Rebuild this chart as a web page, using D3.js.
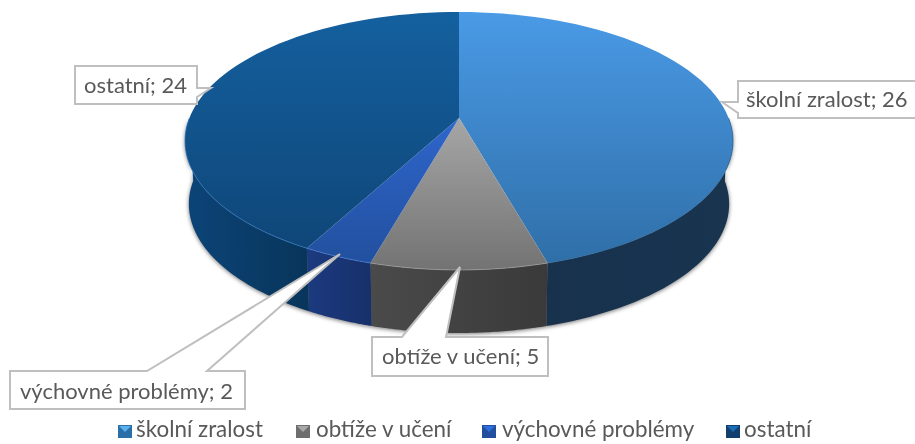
<!DOCTYPE html>
<html>

<head>
    <meta charset="utf-8">
    <title>Koláčový graf</title>
    <style>
        body { margin: 0; background: #fff; }
        svg { display: block; filter: blur(0.35px); }
        text { font-family: Lato, "Open Sans", sans-serif; fill: #595959; }
    </style>
</head>

<body>
    <script src="https://cdn.jsdelivr.net/npm/d3@7/dist/d3.min.js"></script>
    <script>
        const categories = ["školní zralost", "obtíže v učení", "výchovné problémy", "ostatní"];
        const values = [26, 5, 2, 24];

        const width = 915, height = 444;
        const topColors = [["#4a9ae6", "#2f6fa8"], ["#a6a6a6", "#737373"], ["#2f66cc", "#22509f"], ["#14609f", "#0f4678"]];
        const sideColors = [["#18324e", "#18344f"], ["#4a4a4a", "#3a3a3a"], ["#1c3a80", "#17306a"], ["#0c4478", "#08355a"]];
        const rimColors = ["#2f6a9c", "#a0a0a0", "#4a80d8", "#2f78c0"];
        const iconColors = [["#2a6fa8", "#5cb0ee"], ["#6e6e6e", "#a8a8a8"], ["#22509f", "#2f6fdc"], ["#123f6e", "#1c6db4"]];

        // rozlozeni popisku: ramecek, spicka a misto kde z ramecku vychazi
        const labelLayout = [
            { box: [738, 81, 178, 37], side: "left", tip: [722, 102], base: [102, 113], text: [746, 107] },
            { box: [372, 337, 176, 39], side: "top", tip: [460, 267], base: [402, 446], text: [382, 364] },
            { box: [10, 371, 235, 38], side: "top", tip: [340, 254], base: [147, 207], text: [20, 399] },
            { box: [75, 66, 122, 38], side: "right", tip: [211, 88], base: [88, 97], text: [84, 93] }
        ];
        const legendLayout = [[118, 136], [296, 316], [482, 502], [726, 744]];

        const svg = d3.select("body").append("svg")
            .attr("width", width)
            .attr("height", height);
        const defs = svg.append("defs");

        // pohled na disk s perspektivou
        const cx = 459, cy = 118, rx = 269.6, ry = 124.9, persp = 0.178, depth = 63;
        const project = (a, r, dy) => {
            const u = Math.sin(a) * r, v = -Math.cos(a) * r;
            const k = 1 / (1 - persp * v);
            const shrink = dy ? 0.986 : 1;
            return [cx + rx * u * k * shrink, cy + ry * v * k + (dy || 0)];
        };

        const pie = d3.pie().sort(null).value(d => d);
        const arcs = pie(values);
        const line = d3.line();

        const rimPoints = (a0, a1, dy) => d3.range(0, 61).map(i => project(a0 + (a1 - a0) * i / 60, 1, dy));

        function gradient(id, c, x2, y2) {
            const g = defs.append("linearGradient").attr("id", id)
                .attr("x1", 0).attr("y1", 0).attr("x2", x2).attr("y2", y2);
            g.append("stop").attr("offset", "0%").attr("stop-color", c[0]);
            g.append("stop").attr("offset", "100%").attr("stop-color", c[1]);
        }
        topColors.forEach((c, i) => gradient("top" + i, c, 0, 1));
        sideColors.forEach((c, i) => gradient("side" + i, c, 1, 0));

        // bocni stena - jen predni polovina, se stinem
        const sides = svg.append("g")
            .style("filter", "drop-shadow(0px 1px 2px rgba(0,0,0,0.55))");
        arcs.forEach((d, i) => {
            const a0 = Math.max(d.startAngle, Math.PI / 2), a1 = Math.min(d.endAngle, Math.PI * 1.5);
            if (a1 <= a0) return;
            const pts = rimPoints(a0, a1, 0).concat(rimPoints(a0, a1, depth).reverse());
            sides.append("path")
                .attr("d", line(pts) + "Z")
                .attr("fill", `url(#side${i})`);
        });

        // horni plocha a svetly okraj
        const tops = svg.append("g");
        arcs.forEach((d, i) => {
            const pts = [[cx, cy]].concat(rimPoints(d.startAngle, d.endAngle, 0));
            tops.append("path")
                .attr("d", line(pts) + "Z")
                .attr("fill", `url(#top${i})`);
        });
        arcs.forEach((d, i) => {
            const a0 = Math.max(d.startAngle, Math.PI / 2), a1 = Math.min(d.endAngle, Math.PI * 1.5);
            if (a1 <= a0) return;
            tops.append("path")
                .attr("d", line(rimPoints(a0, a1, 0)))
                .attr("fill", "none")
                .attr("stroke", rimColors[i])
                .attr("stroke-opacity", 0.7)
                .attr("stroke-width", 1);
        });

        // popisky s odkazem
        function calloutPoints(l) {
            const [x, y, w, h] = l.box;
            if (l.side === "top") {
                return [[x, y], [l.base[0], y], l.tip, [l.base[1], y], [x + w, y], [x + w, y + h], [x, y + h]];
            }
            if (l.side === "left") {
                return [[x, y], [x + w, y], [x + w, y + h], [x, y + h], [x, l.base[1]], l.tip, [x, l.base[0]]];
            }
            return [[x, y], [x + w, y], [x + w, l.base[0]], l.tip, [x + w, l.base[1]], [x + w, y + h], [x, y + h]];
        }

        labelLayout.forEach((l, i) => {
            const g = svg.append("g");
            g.append("path")
                .attr("d", line(calloutPoints(l)) + "Z")
                .attr("fill", "#fff")
                .attr("stroke", "#bfbfbf")
                .attr("stroke-width", 2);
            g.append("text")
                .attr("x", l.text[0])
                .attr("y", l.text[1])
                .attr("font-size", 22)
                .text(categories[i] + "; " + values[i]);
        });

        // legenda
        const legend = svg.selectAll(".legend")
            .data(categories)
            .enter()
            .append("g")
            .attr("class", "legend");
        legend.append("rect")
            .attr("x", (d, i) => legendLayout[i][0])
            .attr("y", 425)
            .attr("width", 14).attr("height", 13)
            .attr("fill", (d, i) => iconColors[i][0]);
        legend.append("path")
            .attr("d", (d, i) => {
                const x = legendLayout[i][0];
                return line([[x + 1, 426], [x + 13, 426], [x + 7, 432]]) + "Z";
            })
            .attr("fill", (d, i) => iconColors[i][1]);
        legend.append("text")
            .attr("x", (d, i) => legendLayout[i][1])
            .attr("y", 437)
            .attr("font-size", 22.4)
            .text(d => d);
    </script>
</body>

</html>
